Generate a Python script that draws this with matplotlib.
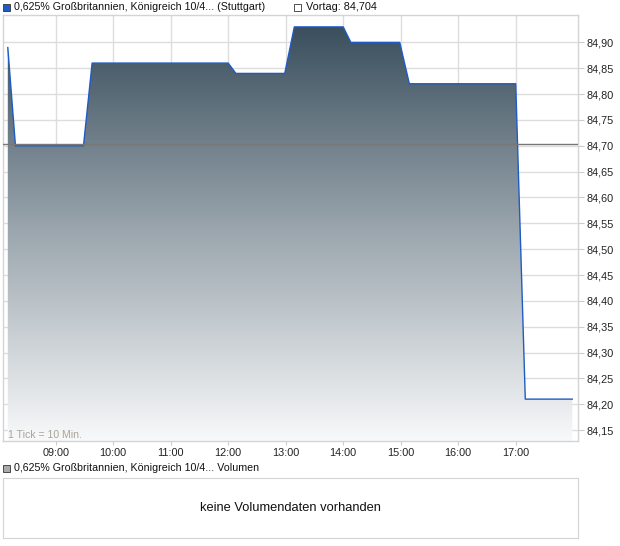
import numpy as np
import matplotlib
matplotlib.use("Agg")
import matplotlib.pyplot as plt
from matplotlib.colors import LinearSegmentedColormap
from matplotlib.ticker import FixedLocator, FuncFormatter

plt.rcParams['font.family'] = ['Liberation Sans', 'DejaVu Sans']

# price series (minutes after midnight, price)
times = [490, 498, 569, 578, 720, 728, 779, 789, 840, 848, 899, 909, 1020, 1030, 1079]
prices = [84.89, 84.70, 84.70, 84.86, 84.86, 84.84, 84.84, 84.93, 84.93, 84.90, 84.90, 84.82, 84.82, 84.21, 84.21]
prev_close = 84.704
hour_ticks = [9, 10, 11, 12, 13, 14, 15, 16, 17]
price_ticks = [84.15, 84.20, 84.25, 84.30, 84.35, 84.40, 84.45, 84.50, 84.55,
               84.60, 84.65, 84.70, 84.75, 84.80, 84.85, 84.90]
title = "0,625% Großbritannien, Königreich 10/4... (Stuttgart)"
vol_title = "0,625% Großbritannien, Königreich 10/4... Volumen"

W, H = 620, 546
fig = plt.figure(figsize=(W / 100, H / 100), dpi=100)

def box(x0, y0, x1, y1):
    return [x0 / W, 1 - y1 / H, (x1 - x0) / W, (y1 - y0) / H]

ax = fig.add_axes(box(3, 15, 578, 441))
xmin, xmax = 485, 1085
ymin, ymax = 84.129, 84.953
ax.set_xlim(xmin, xmax)
ax.set_ylim(ymin, ymax)

grid_c = '#dddddd'
for t in hour_ticks:
    ax.axvline(t * 60, color=grid_c, lw=1, zorder=0)
for p in price_ticks:
    ax.axhline(p, color=grid_c, lw=1, zorder=0)

# gradient fill under the line
cmap = LinearSegmentedColormap.from_list('g', ['#354a59', '#9aa5ad', '#f8f9fa'])
grad = np.linspace(0, 1, 256).reshape(-1, 1)
img = ax.imshow(grad, cmap=cmap, aspect='auto', extent=[xmin, xmax, ymin, 84.95],
                origin='upper', zorder=1)
poly = ax.fill_between(times, prices, ymin, color='none', lw=0)
img.set_clip_path(poly.get_paths()[0], transform=ax.transData)

ax.plot(times, prices, color='#1f5bc4', lw=1.0, zorder=3)
ax.axhline(prev_close, color='#777777', lw=1, zorder=4)

ax.yaxis.tick_right()
ax.yaxis.set_major_locator(FixedLocator(price_ticks))
ax.yaxis.set_major_formatter(FuncFormatter(lambda v, _: f"{v:.2f}".replace('.', ',')))
ax.xaxis.set_major_locator(FixedLocator([h * 60 for h in hour_ticks]))
ax.xaxis.set_major_formatter(FuncFormatter(lambda v, _: f"{int(v // 60):02d}:00"))
ax.tick_params(axis='y', length=4, color='#cccccc', labelsize=7.8, pad=2, labelcolor='#222222')
ax.tick_params(axis='x', length=3, color='#cccccc', labelsize=7.8, pad=2, labelcolor='#222222')
for s in ax.spines.values():
    s.set_color('#d4d4d4')
    s.set_linewidth(1)

ax.text(8, H - 435, "1 Tick = 10 Min.", transform=None, fontsize=7.6, color='#aba498',
        va='center', ha='left', zorder=5)

# legend line at top
fig.patches.append(plt.Rectangle((3 / W, 1 - 11 / H), 7 / W, 7 / H, transform=fig.transFigure,
                                 facecolor='#1f5bc4', edgecolor='#333333', lw=0.6))
fig.text(14 / W, 1 - 7 / H, title, fontsize=7.7, va='center', ha='left', color='#111111')
fig.patches.append(plt.Rectangle((294 / W, 1 - 11 / H), 7 / W, 7 / H, transform=fig.transFigure,
                                 facecolor='white', edgecolor='#333333', lw=0.6))
fig.text(306 / W, 1 - 7 / H, "Vortag: 84,704", fontsize=7.8, va='center', ha='left', color='#111111')

# volume panel
fig.patches.append(plt.Rectangle((3 / W, 1 - 472 / H), 7 / W, 7 / H, transform=fig.transFigure,
                                 facecolor='#aaaaaa', edgecolor='#333333', lw=0.6))
fig.text(14 / W, 1 - 468 / H, vol_title, fontsize=7.7, va='center', ha='left', color='#111111')
vax = fig.add_axes(box(3, 478, 578, 538))
vax.set_xticks([])
vax.set_yticks([])
for s in vax.spines.values():
    s.set_color('#d4d4d4')
vax.text(0.5, 0.5, "keine Volumendaten vorhanden", transform=vax.transAxes,
         ha='center', va='center', fontsize=9.3, color='#111111')

fig.savefig('out.png', dpi=100)
